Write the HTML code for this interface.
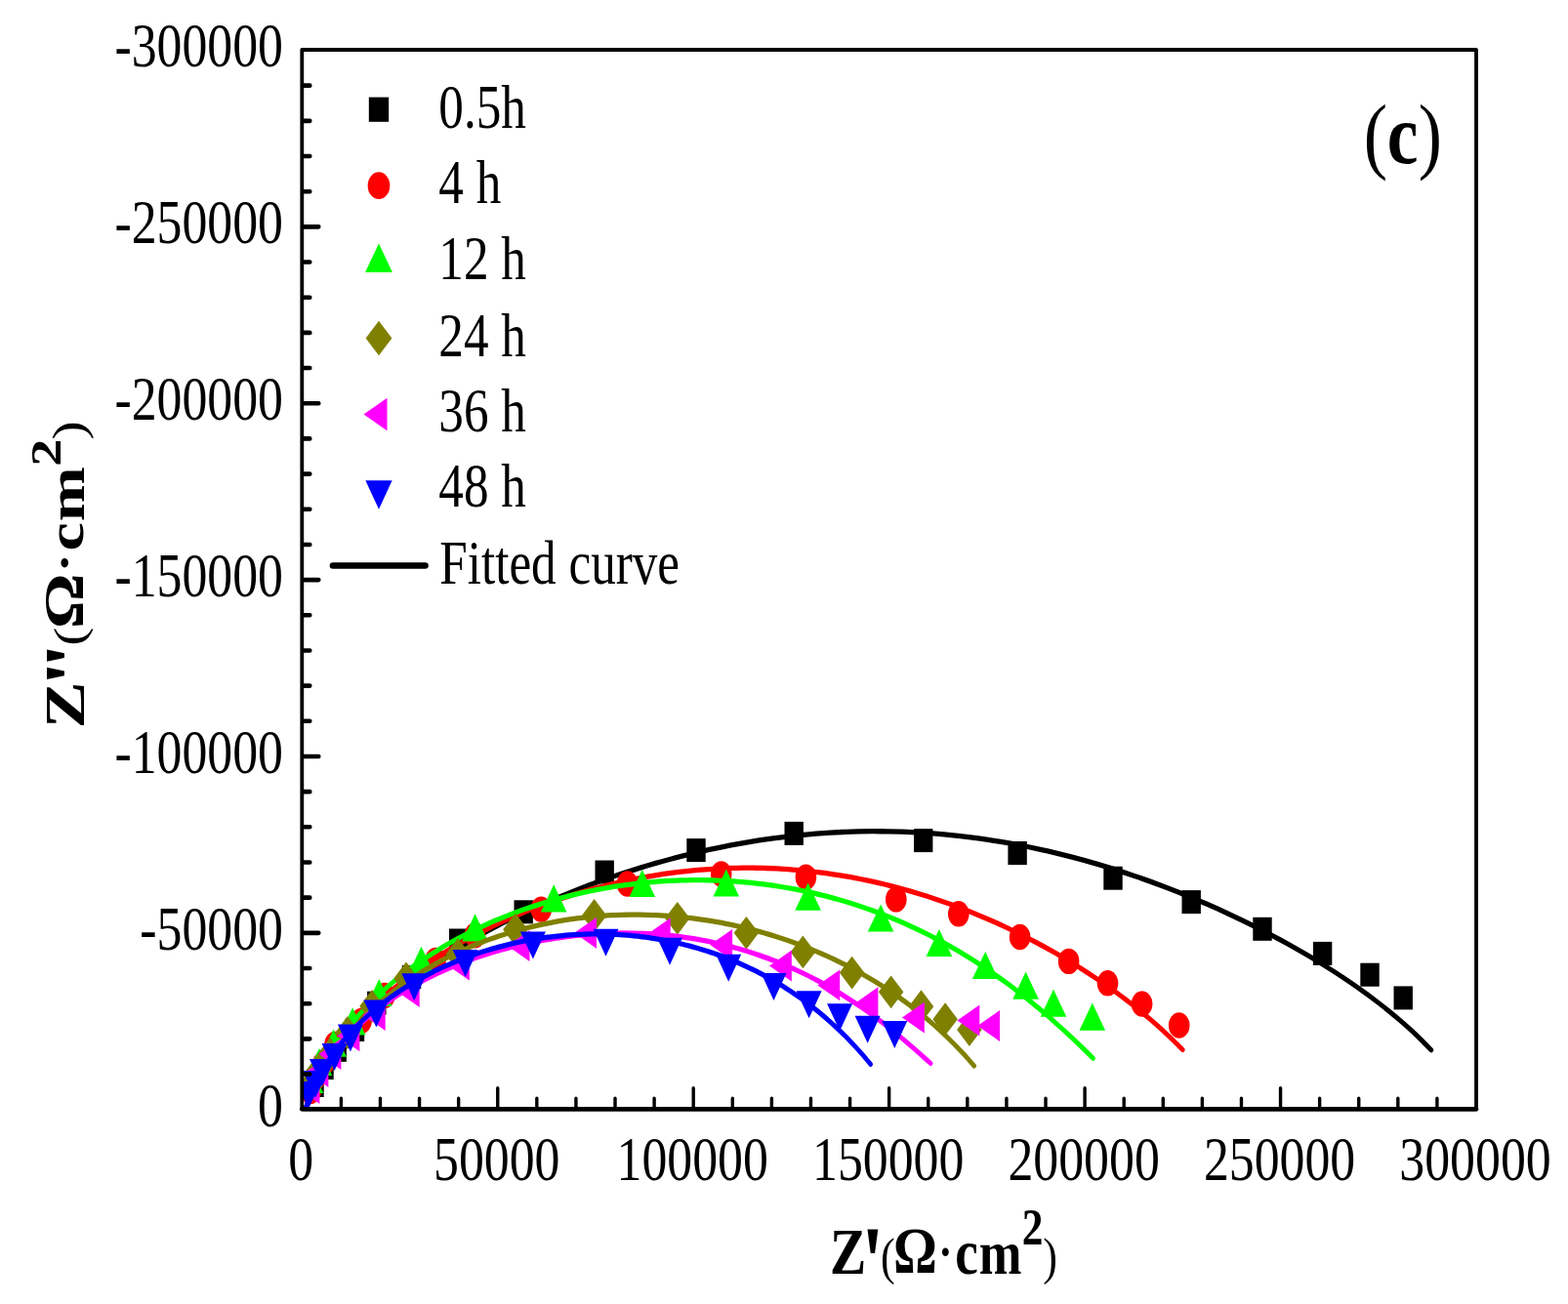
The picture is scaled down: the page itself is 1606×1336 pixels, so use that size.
<!DOCTYPE html><html><head><meta charset="utf-8"><title>Nyquist plot</title><style>html,body{margin:0;padding:0;background:#fff;}svg{display:block}</style></head><body>
<svg width="1606" height="1336" viewBox="0 0 1606 1336">
<rect width="1606" height="1336" fill="#fff"/>
<defs><clipPath id="pc"><rect x="309.3" y="51" width="1202.7" height="1085.2"/></clipPath></defs>
<g clip-path="url(#pc)" stroke-linecap="round" stroke-linejoin="round">
<rect x="312.3" y="1100" width="19.4" height="24" fill="#000000"/>
<rect x="322.3" y="1082" width="19.4" height="24" fill="#000000"/>
<rect x="335.5" y="1063.8" width="19.4" height="24" fill="#000000"/>
<rect x="353.8" y="1043" width="19.4" height="24" fill="#000000"/>
<rect x="376.1" y="1015.7" width="19.4" height="24" fill="#000000"/>
<rect x="411.8" y="989" width="19.4" height="24" fill="#000000"/>
<rect x="460" y="951.5" width="19.4" height="24" fill="#000000"/>
<rect x="526.5" y="922.3" width="19.4" height="24" fill="#000000"/>
<rect x="609.5" y="881.5" width="19.4" height="24" fill="#000000"/>
<rect x="703.3" y="859.1" width="19.4" height="24" fill="#000000"/>
<rect x="803.5" y="841.9" width="19.4" height="24" fill="#000000"/>
<rect x="936" y="849.1" width="19.4" height="24" fill="#000000"/>
<rect x="1032.4" y="862" width="19.4" height="24" fill="#000000"/>
<rect x="1130.3" y="887.7" width="19.4" height="24" fill="#000000"/>
<rect x="1210.5" y="912.1" width="19.4" height="24" fill="#000000"/>
<rect x="1283.3" y="939.8" width="19.4" height="24" fill="#000000"/>
<rect x="1344.9" y="964.9" width="19.4" height="24" fill="#000000"/>
<rect x="1393.3" y="986.7" width="19.4" height="24" fill="#000000"/>
<rect x="1427.5" y="1010.4" width="19.4" height="24" fill="#000000"/>
<path transform="scale(1,1.2)" d="M312.91,946.6 C313.88,944.65 316.65,938.71 318.74,934.88 C320.83,931.05 323.09,927.31 325.46,923.64 C327.83,919.96 330.35,916.37 332.97,912.85 C335.6,909.33 338.35,905.88 341.2,902.51 C344.05,899.13 347.02,895.83 350.07,892.59 C353.12,889.35 356.28,886.18 359.51,883.08 C362.75,879.97 366.07,876.93 369.47,873.95 C372.86,870.97 376.34,868.05 379.88,865.19 C383.42,862.34 387.03,859.54 390.7,856.79 C394.36,854.05 398.1,851.36 401.88,848.72 C405.66,846.09 409.5,843.51 413.38,840.97 C417.26,838.44 421.19,835.96 425.16,833.53 C429.13,831.09 433.15,828.71 437.2,826.36 C441.25,824.02 445.34,821.73 449.46,819.48 C453.58,817.22 457.74,815.02 461.93,812.85 C466.11,810.68 470.33,808.55 474.57,806.47 C478.81,804.38 483.08,802.33 487.37,800.32 C491.66,798.31 495.98,796.34 500.31,794.4 C504.65,792.47 509.01,790.57 513.39,788.7 C517.77,786.84 522.17,785.01 526.58,783.22 C531,781.42 535.44,779.66 539.89,777.93 C544.34,776.2 548.81,774.51 553.29,772.84 C557.77,771.18 562.27,769.55 566.78,767.95 C571.3,766.35 575.83,764.79 580.37,763.25 C584.91,761.72 589.46,760.21 594.03,758.74 C598.6,757.27 603.18,755.82 607.77,754.41 C612.36,753 616.97,751.62 621.59,750.27 C626.2,748.93 630.83,747.61 635.47,746.32 C640.11,745.04 644.76,743.78 649.42,742.56 C654.08,741.33 658.76,740.14 663.44,738.98 C668.12,737.82 672.82,736.69 677.52,735.6 C682.22,734.5 686.94,733.44 691.66,732.4 C696.38,731.37 701.12,730.37 705.86,729.41 C710.6,728.44 715.35,727.51 720.11,726.61 C724.87,725.72 729.64,724.85 734.41,724.02 C739.19,723.19 743.98,722.39 748.77,721.63 C753.56,720.87 758.36,720.14 763.17,719.45 C767.97,718.76 772.79,718.11 777.61,717.49 C782.42,716.87 787.25,716.28 792.08,715.74 C796.91,715.19 801.75,714.68 806.59,714.21 C811.44,713.73 816.28,713.3 821.14,712.9 C825.99,712.5 830.84,712.14 835.7,711.82 C840.56,711.49 845.42,711.21 850.29,710.96 C855.15,710.71 860.02,710.5 864.89,710.33 C869.76,710.16 874.63,710.03 879.5,709.94 C884.37,709.84 889.24,709.79 894.11,709.77 C898.98,709.76 903.86,709.78 908.73,709.84 C913.6,709.9 918.47,710 923.33,710.14 C928.2,710.28 933.06,710.46 937.93,710.68 C942.79,710.89 947.65,711.15 952.5,711.44 C957.36,711.74 962.21,712.07 967.05,712.44 C971.9,712.81 976.74,713.22 981.58,713.67 C986.41,714.11 991.24,714.6 996.07,715.12 C1000.89,715.64 1005.71,716.2 1010.52,716.79 C1015.33,717.39 1020.13,718.02 1024.93,718.69 C1029.72,719.36 1034.51,720.07 1039.29,720.81 C1044.07,721.55 1048.84,722.33 1053.6,723.14 C1058.36,723.95 1063.11,724.8 1067.85,725.68 C1072.59,726.56 1077.32,727.47 1082.05,728.42 C1086.77,729.37 1091.48,730.35 1096.18,731.37 C1100.88,732.38 1105.57,733.43 1110.25,734.51 C1114.93,735.59 1119.59,736.71 1124.25,737.85 C1128.91,738.99 1133.55,740.17 1138.18,741.38 C1142.82,742.58 1147.44,743.82 1152.05,745.08 C1156.66,746.35 1161.25,747.65 1165.84,748.97 C1170.42,750.3 1175,751.66 1179.56,753.04 C1184.12,754.42 1188.67,755.84 1193.2,757.28 C1197.74,758.72 1202.26,760.19 1206.77,761.69 C1211.28,763.18 1215.78,764.71 1220.27,766.26 C1224.75,767.81 1229.22,769.39 1233.68,771 C1238.14,772.61 1242.59,774.25 1247.02,775.91 C1251.45,777.57 1255.87,779.26 1260.28,780.98 C1264.68,782.69 1269.07,784.44 1273.45,786.21 C1277.83,787.98 1282.19,789.78 1286.54,791.61 C1290.88,793.44 1295.22,795.29 1299.53,797.18 C1303.85,799.06 1308.15,800.98 1312.44,802.92 C1316.72,804.86 1320.99,806.83 1325.24,808.83 C1329.49,810.83 1333.72,812.87 1337.93,814.93 C1342.14,816.99 1346.33,819.08 1350.5,821.21 C1354.67,823.34 1358.82,825.5 1362.95,827.69 C1367.07,829.88 1371.18,832.11 1375.25,834.37 C1379.33,836.63 1383.38,838.93 1387.39,841.26 C1391.41,843.6 1395.41,845.97 1399.36,848.38 C1403.32,850.8 1407.24,853.24 1411.13,855.74 C1415.01,858.23 1418.87,860.76 1422.67,863.34 C1426.48,865.92 1430.25,868.54 1433.96,871.2 C1437.68,873.87 1441.35,876.58 1444.97,879.35 C1448.58,882.11 1452.15,884.92 1455.65,887.78 C1459.15,890.64 1464.25,895.06 1465.97,896.52" fill="none" stroke="#000000" stroke-width="4.4"/>
<ellipse cx="318" cy="1118" rx="10.8" ry="13.2" fill="#ff0000"/>
<ellipse cx="323" cy="1104" rx="10.8" ry="13.2" fill="#ff0000"/>
<ellipse cx="331" cy="1090" rx="10.8" ry="13.2" fill="#ff0000"/>
<ellipse cx="343" cy="1070" rx="10.8" ry="13.2" fill="#ff0000"/>
<ellipse cx="370" cy="1046" rx="10.8" ry="13.2" fill="#ff0000"/>
<ellipse cx="394" cy="1020" rx="10.8" ry="13.2" fill="#ff0000"/>
<ellipse cx="446" cy="984" rx="10.8" ry="13.2" fill="#ff0000"/>
<ellipse cx="486.6" cy="958.2" rx="10.8" ry="13.2" fill="#ff0000"/>
<ellipse cx="554.3" cy="931.6" rx="10.8" ry="13.2" fill="#ff0000"/>
<ellipse cx="642.5" cy="905.5" rx="10.8" ry="13.2" fill="#ff0000"/>
<ellipse cx="738.7" cy="895.5" rx="10.8" ry="13.2" fill="#ff0000"/>
<ellipse cx="825.4" cy="898.7" rx="10.8" ry="13.2" fill="#ff0000"/>
<ellipse cx="917.8" cy="921.4" rx="10.8" ry="13.2" fill="#ff0000"/>
<ellipse cx="981.8" cy="936.3" rx="10.8" ry="13.2" fill="#ff0000"/>
<ellipse cx="1044.6" cy="960" rx="10.8" ry="13.2" fill="#ff0000"/>
<ellipse cx="1094.6" cy="984.9" rx="10.8" ry="13.2" fill="#ff0000"/>
<ellipse cx="1134.5" cy="1007.3" rx="10.8" ry="13.2" fill="#ff0000"/>
<ellipse cx="1169.6" cy="1028.5" rx="10.8" ry="13.2" fill="#ff0000"/>
<ellipse cx="1207.7" cy="1050.5" rx="10.8" ry="13.2" fill="#ff0000"/>
<path transform="scale(1,1.2)" d="M312.97,946.65 C313.63,945.08 315.53,940.34 316.98,937.26 C318.42,934.17 319.98,931.13 321.63,928.13 C323.27,925.13 325.03,922.18 326.86,919.27 C328.69,916.36 330.62,913.5 332.63,910.68 C334.64,907.86 336.73,905.08 338.89,902.34 C341.06,899.61 343.3,896.92 345.61,894.27 C347.92,891.62 350.3,889.02 352.74,886.45 C355.18,883.89 357.68,881.36 360.24,878.88 C362.8,876.4 365.42,873.96 368.09,871.56 C370.76,869.16 373.49,866.8 376.26,864.48 C379.03,862.15 381.85,859.87 384.72,857.63 C387.58,855.39 390.49,853.18 393.43,851.01 C396.38,848.85 399.37,846.72 402.39,844.62 C405.42,842.53 408.48,840.47 411.57,838.45 C414.67,836.43 417.8,834.44 420.96,832.49 C424.11,830.54 427.31,828.63 430.52,826.75 C433.74,824.86 436.99,823.02 440.26,821.2 C443.53,819.39 446.83,817.61 450.15,815.86 C453.47,814.11 456.82,812.4 460.19,810.72 C463.56,809.03 466.95,807.38 470.36,805.76 C473.77,804.14 477.2,802.56 480.65,801 C484.1,799.45 487.57,797.92 491.06,796.43 C494.55,794.93 498.05,793.47 501.57,792.04 C505.1,790.6 508.63,789.2 512.19,787.83 C515.74,786.46 519.31,785.11 522.89,783.8 C526.48,782.49 530.07,781.21 533.69,779.96 C537.3,778.7 540.92,777.48 544.56,776.29 C548.2,775.09 551.85,773.93 555.51,772.8 C559.17,771.66 562.85,770.56 566.53,769.48 C570.22,768.41 573.91,767.37 577.62,766.35 C581.33,765.33 585.04,764.35 588.77,763.39 C592.5,762.44 596.24,761.51 599.98,760.62 C603.73,759.72 607.48,758.85 611.25,758.02 C615.01,757.18 618.79,756.37 622.57,755.6 C626.35,754.82 630.14,754.08 633.93,753.36 C637.73,752.65 641.53,751.96 645.34,751.31 C649.15,750.65 652.97,750.03 656.79,749.43 C660.61,748.84 664.44,748.28 668.27,747.75 C672.11,747.21 675.95,746.71 679.79,746.24 C683.63,745.77 687.48,745.34 691.34,744.93 C695.19,744.52 699.05,744.15 702.9,743.8 C706.76,743.46 710.63,743.15 714.49,742.86 C718.36,742.58 722.23,742.33 726.1,742.12 C729.97,741.9 733.84,741.71 737.71,741.56 C741.59,741.4 745.46,741.28 749.34,741.19 C753.21,741.1 757.09,741.04 760.96,741.02 C764.84,740.99 768.71,740.99 772.58,741.03 C776.46,741.07 780.33,741.14 784.2,741.24 C788.07,741.34 791.94,741.47 795.81,741.64 C799.67,741.8 803.54,742 807.4,742.23 C811.26,742.46 815.11,742.72 818.97,743.01 C822.82,743.3 826.67,743.62 830.51,743.98 C834.35,744.33 838.19,744.72 842.03,745.13 C845.86,745.55 849.69,746 853.51,746.48 C857.33,746.95 861.15,747.46 864.96,748 C868.77,748.54 872.57,749.12 876.37,749.72 C880.16,750.32 883.95,750.95 887.73,751.61 C891.51,752.27 895.28,752.96 899.04,753.68 C902.81,754.4 906.56,755.15 910.31,755.93 C914.05,756.71 917.79,757.51 921.51,758.35 C925.24,759.19 928.96,760.05 932.66,760.94 C936.37,761.84 940.07,762.76 943.75,763.71 C947.44,764.66 951.12,765.63 954.78,766.64 C958.45,767.64 962.1,768.67 965.74,769.73 C969.39,770.79 973.02,771.87 976.64,772.98 C980.26,774.1 983.87,775.23 987.46,776.4 C991.06,777.56 994.64,778.75 998.22,779.97 C1001.79,781.18 1005.35,782.42 1008.9,783.69 C1012.44,784.96 1015.98,786.25 1019.5,787.57 C1023.02,788.88 1026.53,790.23 1030.03,791.59 C1033.53,792.96 1037.01,794.35 1040.48,795.76 C1043.95,797.18 1047.41,798.62 1050.85,800.08 C1054.29,801.55 1057.72,803.04 1061.14,804.55 C1064.55,806.06 1067.95,807.6 1071.34,809.16 C1074.73,810.72 1078.1,812.31 1081.46,813.91 C1084.81,815.52 1088.16,817.16 1091.48,818.81 C1094.81,820.47 1098.12,822.15 1101.42,823.86 C1104.72,825.56 1108,827.29 1111.26,829.04 C1114.52,830.8 1117.77,832.57 1121,834.38 C1124.23,836.18 1127.44,838.01 1130.64,839.86 C1133.83,841.71 1137.01,843.59 1140.16,845.49 C1143.32,847.39 1146.46,849.32 1149.57,851.27 C1152.69,853.22 1155.78,855.2 1158.86,857.21 C1161.93,859.21 1164.98,861.24 1168.01,863.3 C1171.04,865.36 1174.04,867.44 1177.02,869.56 C1180,871.67 1182.95,873.81 1185.87,875.98 C1188.8,878.14 1191.7,880.34 1194.56,882.56 C1197.43,884.79 1200.27,887.04 1203.07,889.32 C1205.87,891.61 1210,895.11 1211.38,896.26" fill="none" stroke="#ff0000" stroke-width="4.4"/>
<polygon points="318,1091.9 331.3,1120.1 304.7,1120.1" fill="#00ff00"/>
<polygon points="327,1073.9 340.3,1102.1 313.7,1102.1" fill="#00ff00"/>
<polygon points="341.6,1054.6 354.9,1082.8 328.3,1082.8" fill="#00ff00"/>
<polygon points="361.1,1032.2 374.4,1060.4 347.8,1060.4" fill="#00ff00"/>
<polygon points="388.3,1002.9 401.6,1031.1 375,1031.1" fill="#00ff00"/>
<polygon points="431.5,969.8 444.8,998 418.2,998" fill="#00ff00"/>
<polygon points="486.6,936.2 499.9,964.4 473.3,964.4" fill="#00ff00"/>
<polygon points="567.2,906.3 580.5,934.5 553.9,934.5" fill="#00ff00"/>
<polygon points="657.8,890.7 671.1,918.9 644.5,918.9" fill="#00ff00"/>
<polygon points="743.8,890.4 757.1,918.6 730.5,918.6" fill="#00ff00"/>
<polygon points="827.6,904.5 840.9,932.7 814.3,932.7" fill="#00ff00"/>
<polygon points="902.1,926.4 915.4,954.6 888.8,954.6" fill="#00ff00"/>
<polygon points="961.9,951.9 975.2,980.1 948.6,980.1" fill="#00ff00"/>
<polygon points="1009.2,974.9 1022.5,1003.1 995.9,1003.1" fill="#00ff00"/>
<polygon points="1050.6,995.6 1063.9,1023.8 1037.3,1023.8" fill="#00ff00"/>
<polygon points="1079,1013.6 1092.3,1041.8 1065.7,1041.8" fill="#00ff00"/>
<polygon points="1118.8,1027.6 1132.1,1055.8 1105.5,1055.8" fill="#00ff00"/>
<path transform="scale(1,1.2)" d="M312.94,946.64 C313.49,945.2 315.03,940.86 316.2,938.02 C317.37,935.17 318.63,932.36 319.97,929.57 C321.3,926.78 322.72,924.02 324.22,921.29 C325.71,918.56 327.29,915.86 328.93,913.19 C330.57,910.53 332.29,907.89 334.07,905.29 C335.86,902.69 337.71,900.11 339.62,897.58 C341.54,895.04 343.52,892.53 345.56,890.06 C347.59,887.59 349.7,885.15 351.85,882.75 C354,880.35 356.22,877.98 358.48,875.65 C360.74,873.31 363.06,871.01 365.43,868.75 C367.79,866.48 370.21,864.25 372.67,862.06 C375.13,859.86 377.64,857.71 380.19,855.58 C382.74,853.46 385.33,851.37 387.96,849.31 C390.6,847.26 393.27,845.24 395.98,843.25 C398.69,841.27 401.44,839.32 404.22,837.41 C407,835.49 409.82,833.61 412.67,831.77 C415.52,829.92 418.4,828.11 421.31,826.34 C424.22,824.56 427.17,822.82 430.13,821.11 C433.1,819.41 436.1,817.73 439.12,816.09 C442.14,814.45 445.19,812.85 448.27,811.28 C451.34,809.71 454.43,808.17 457.55,806.66 C460.67,805.16 463.81,803.69 466.97,802.25 C470.13,800.81 473.31,799.4 476.5,798.03 C479.7,796.65 482.92,795.31 486.15,794 C489.39,792.69 492.64,791.42 495.91,790.17 C499.17,788.93 502.46,787.71 505.76,786.53 C509.05,785.35 512.37,784.2 515.69,783.08 C519.02,781.96 522.35,780.87 525.71,779.81 C529.06,778.75 532.42,777.73 535.79,776.73 C539.17,775.73 542.55,774.77 545.95,773.83 C549.35,772.89 552.75,771.99 556.17,771.11 C559.58,770.24 563.01,769.39 566.44,768.57 C569.87,767.76 573.32,766.97 576.76,766.21 C580.21,765.46 583.67,764.73 587.13,764.03 C590.6,763.33 594.07,762.66 597.55,762.02 C601.02,761.39 604.51,760.77 607.99,760.19 C611.48,759.61 614.98,759.06 618.47,758.54 C621.97,758.01 625.48,757.52 628.98,757.05 C632.49,756.59 636,756.15 639.52,755.74 C643.03,755.33 646.55,754.95 650.08,754.6 C653.6,754.25 657.12,753.93 660.65,753.64 C664.18,753.35 667.71,753.08 671.24,752.85 C674.77,752.61 678.3,752.4 681.84,752.23 C685.37,752.05 688.91,751.9 692.44,751.78 C695.98,751.66 699.51,751.57 703.05,751.5 C706.59,751.44 710.12,751.41 713.66,751.4 C717.2,751.4 720.73,751.42 724.27,751.47 C727.8,751.53 731.33,751.61 734.86,751.72 C738.39,751.83 741.92,751.97 745.45,752.14 C748.98,752.31 752.5,752.51 756.02,752.73 C759.54,752.96 763.06,753.22 766.58,753.5 C770.09,753.79 773.6,754.1 777.11,754.45 C780.62,754.79 784.12,755.17 787.62,755.57 C791.11,755.97 794.6,756.4 798.09,756.87 C801.58,757.33 805.06,757.82 808.53,758.34 C812.01,758.86 815.47,759.41 818.93,759.99 C822.39,760.56 825.85,761.17 829.29,761.81 C832.74,762.45 836.18,763.11 839.61,763.81 C843.04,764.51 846.46,765.23 849.87,765.99 C853.28,766.74 856.69,767.52 860.08,768.34 C863.47,769.15 866.85,769.99 870.23,770.86 C873.6,771.73 876.96,772.63 880.31,773.56 C883.66,774.49 887,775.45 890.33,776.43 C893.66,777.42 896.97,778.43 900.28,779.47 C903.58,780.52 906.87,781.59 910.15,782.68 C913.42,783.78 916.69,784.91 919.94,786.06 C923.19,787.22 926.43,788.4 929.65,789.61 C932.87,790.82 936.08,792.06 939.27,793.32 C942.47,794.58 945.64,795.88 948.81,797.19 C951.97,798.51 955.12,799.85 958.25,801.22 C961.38,802.59 964.5,803.99 967.6,805.41 C970.7,806.83 973.79,808.28 976.85,809.75 C979.92,811.22 982.97,812.72 986.01,814.24 C989.04,815.77 992.06,817.31 995.06,818.88 C998.07,820.45 1001.05,822.05 1004.02,823.66 C1006.99,825.28 1009.94,826.92 1012.87,828.59 C1015.81,830.25 1018.72,831.94 1021.62,833.65 C1024.52,835.35 1027.41,837.08 1030.27,838.84 C1033.14,840.59 1035.99,842.36 1038.82,844.15 C1041.66,845.95 1044.48,847.76 1047.28,849.6 C1050.08,851.43 1052.87,853.29 1055.64,855.16 C1058.41,857.03 1061.16,858.93 1063.9,860.84 C1066.64,862.75 1069.37,864.68 1072.08,866.63 C1074.79,868.58 1077.48,870.55 1080.17,872.53 C1082.85,874.51 1085.52,876.52 1088.18,878.53 C1090.84,880.55 1093.48,882.59 1096.12,884.64 C1098.75,886.69 1101.38,888.76 1103.99,890.84 C1106.6,892.92 1109.21,895.02 1111.8,897.14 C1114.4,899.25 1118.27,902.46 1119.57,903.52" fill="none" stroke="#00ff00" stroke-width="4.4"/>
<polygon points="318,1095.1 330.75,1112 318,1128.9 305.25,1112" fill="#808000"/>
<polygon points="326,1080.1 338.75,1097 326,1113.9 313.25,1097" fill="#808000"/>
<polygon points="338,1063.1 350.75,1080 338,1096.9 325.25,1080" fill="#808000"/>
<polygon points="356,1041.1 368.75,1058 356,1074.9 343.25,1058" fill="#808000"/>
<polygon points="381,1014.1 393.75,1031 381,1047.9 368.25,1031" fill="#808000"/>
<polygon points="416,985.6 428.75,1002.5 416,1019.4 403.25,1002.5" fill="#808000"/>
<polygon points="469,961.1 481.75,978 469,994.9 456.25,978" fill="#808000"/>
<polygon points="527.9,935.4 540.65,952.3 527.9,969.2 515.15,952.3" fill="#808000"/>
<polygon points="608.6,921.1 621.35,938 608.6,954.9 595.85,938" fill="#808000"/>
<polygon points="693.8,923.9 706.55,940.8 693.8,957.7 681.05,940.8" fill="#808000"/>
<polygon points="764.4,938.9 777.15,955.8 764.4,972.7 751.65,955.8" fill="#808000"/>
<polygon points="822.4,958.5 835.15,975.4 822.4,992.3 809.65,975.4" fill="#808000"/>
<polygon points="872.6,979.7 885.35,996.6 872.6,1013.5 859.85,996.6" fill="#808000"/>
<polygon points="912.6,999.4 925.35,1016.3 912.6,1033.2 899.85,1016.3" fill="#808000"/>
<polygon points="943.5,1014.3 956.25,1031.2 943.5,1048.1 930.75,1031.2" fill="#808000"/>
<polygon points="968.1,1027.3 980.85,1044.2 968.1,1061.1 955.35,1044.2" fill="#808000"/>
<polygon points="992.9,1038.1 1005.65,1055 992.9,1071.9 980.15,1055" fill="#808000"/>
<path transform="scale(1,1.2)" d="M312.95,946.64 C313.48,945.45 315.01,941.88 316.12,939.52 C317.24,937.17 318.42,934.83 319.65,932.52 C320.88,930.2 322.17,927.9 323.51,925.63 C324.85,923.35 326.24,921.1 327.69,918.87 C329.14,916.64 330.64,914.43 332.18,912.24 C333.73,910.06 335.33,907.89 336.97,905.75 C338.62,903.62 340.31,901.5 342.05,899.41 C343.78,897.32 345.57,895.26 347.39,893.22 C349.22,891.18 351.09,889.16 353,887.18 C354.9,885.19 356.86,883.23 358.85,881.29 C360.83,879.36 362.86,877.45 364.93,875.57 C367,873.69 369.1,871.83 371.24,870.01 C373.37,868.18 375.55,866.38 377.76,864.61 C379.96,862.84 382.2,861.1 384.47,859.39 C386.74,857.67 389.05,855.99 391.38,854.33 C393.71,852.68 396.08,851.05 398.47,849.45 C400.86,847.85 403.28,846.28 405.72,844.73 C408.16,843.19 410.64,841.68 413.13,840.2 C415.63,838.71 418.15,837.26 420.69,835.83 C423.24,834.4 425.8,833.01 428.39,831.64 C430.98,830.27 433.59,828.93 436.22,827.62 C438.85,826.31 441.5,825.03 444.17,823.78 C446.84,822.52 449.53,821.3 452.24,820.11 C454.94,818.91 457.67,817.75 460.4,816.61 C463.14,815.47 465.9,814.36 468.67,813.28 C471.44,812.2 474.23,811.15 477.03,810.13 C479.83,809.11 482.64,808.11 485.46,807.14 C488.29,806.18 491.13,805.24 493.98,804.33 C496.83,803.42 499.69,802.54 502.56,801.68 C505.43,800.83 508.32,800 511.21,799.2 C514.1,798.4 517,797.63 519.91,796.88 C522.82,796.14 525.74,795.42 528.67,794.73 C531.59,794.04 534.53,793.38 537.47,792.74 C540.41,792.11 543.36,791.5 546.31,790.91 C549.26,790.33 552.22,789.77 555.19,789.24 C558.15,788.71 561.12,788.21 564.1,787.73 C567.07,787.25 570.05,786.8 573.03,786.37 C576.02,785.95 579,785.55 581.99,785.17 C584.98,784.8 587.98,784.45 590.97,784.12 C593.97,783.8 596.96,783.5 599.96,783.23 C602.96,782.95 605.97,782.71 608.97,782.48 C611.97,782.26 614.98,782.06 617.98,781.89 C620.99,781.71 623.99,781.56 627,781.44 C630,781.31 633.01,781.21 636.01,781.13 C639.02,781.06 642.03,781.01 645.03,780.98 C648.04,780.95 651.04,780.95 654.04,780.97 C657.05,780.99 660.05,781.03 663.05,781.1 C666.05,781.16 669.04,781.25 672.04,781.37 C675.04,781.48 678.03,781.62 681.02,781.78 C684.01,781.95 687,782.13 689.99,782.34 C692.97,782.55 695.95,782.78 698.93,783.03 C701.91,783.29 704.89,783.57 707.86,783.87 C710.83,784.17 713.8,784.49 716.76,784.84 C719.73,785.19 722.69,785.56 725.64,785.95 C728.6,786.35 731.55,786.76 734.49,787.2 C737.44,787.64 740.38,788.1 743.31,788.59 C746.25,789.07 749.18,789.58 752.1,790.11 C755.02,790.64 757.94,791.19 760.85,791.77 C763.76,792.34 766.67,792.94 769.56,793.56 C772.46,794.18 775.35,794.83 778.24,795.49 C781.12,796.16 784,796.85 786.87,797.56 C789.73,798.27 792.6,799.01 795.45,799.76 C798.3,800.52 801.15,801.3 803.98,802.1 C806.82,802.91 809.65,803.73 812.47,804.58 C815.29,805.43 818.1,806.3 820.9,807.19 C823.7,808.08 826.49,809 829.27,809.94 C832.05,810.87 834.82,811.83 837.58,812.82 C840.34,813.8 843.09,814.81 845.83,815.83 C848.57,816.86 851.29,817.91 854.01,818.99 C856.72,820.06 859.43,821.16 862.12,822.28 C864.81,823.39 867.49,824.54 870.16,825.7 C872.82,826.86 875.48,828.05 878.12,829.26 C880.76,830.47 883.38,831.7 886,832.95 C888.61,834.21 891.21,835.48 893.79,836.78 C896.38,838.08 898.94,839.4 901.5,840.75 C904.05,842.09 906.59,843.46 909.11,844.84 C911.63,846.23 914.14,847.64 916.63,849.08 C919.12,850.51 921.59,851.96 924.05,853.44 C926.5,854.92 928.94,856.42 931.36,857.94 C933.78,859.46 936.18,861 938.56,862.57 C940.94,864.13 943.3,865.72 945.65,867.33 C947.99,868.94 950.32,870.57 952.62,872.22 C954.92,873.87 957.21,875.54 959.47,877.24 C961.73,878.93 963.97,880.65 966.19,882.39 C968.41,884.12 970.6,885.88 972.78,887.66 C974.95,889.44 977.1,891.24 979.23,893.06 C981.35,894.88 983.46,896.72 985.54,898.58 C987.62,900.44 989.67,902.33 991.7,904.23 C993.73,906.13 996.71,909.03 997.71,909.99" fill="none" stroke="#808000" stroke-width="4.4"/>
<polygon points="304.6,1115 327.4,1099.1 327.4,1130.9" fill="#ff00ff"/>
<polygon points="313.6,1098 336.4,1082.1 336.4,1113.9" fill="#ff00ff"/>
<polygon points="326.6,1080 349.4,1064.1 349.4,1095.9" fill="#ff00ff"/>
<polygon points="345.6,1061.3 368.4,1045.4 368.4,1077.2" fill="#ff00ff"/>
<polygon points="371.9,1040 394.7,1024.1 394.7,1055.9" fill="#ff00ff"/>
<polygon points="406.9,1016 429.7,1000.1 429.7,1031.9" fill="#ff00ff"/>
<polygon points="458,988.7 480.8,972.8 480.8,1004.6" fill="#ff00ff"/>
<polygon points="519.7,969 542.5,953.1 542.5,984.9" fill="#ff00ff"/>
<polygon points="588.2,955.8 611,939.9 611,971.7" fill="#ff00ff"/>
<polygon points="663.9,956.5 686.7,940.6 686.7,972.4" fill="#ff00ff"/>
<polygon points="727.3,968 750.1,952.1 750.1,983.9" fill="#ff00ff"/>
<polygon points="788,989.5 810.8,973.6 810.8,1005.4" fill="#ff00ff"/>
<polygon points="837.4,1009.4 860.2,993.5 860.2,1025.3" fill="#ff00ff"/>
<polygon points="876.6,1027.2 899.4,1011.3 899.4,1043.1" fill="#ff00ff"/>
<polygon points="924,1042.6 946.8,1026.7 946.8,1058.5" fill="#ff00ff"/>
<polygon points="980.5,1045.5 1003.3,1029.6 1003.3,1061.4" fill="#ff00ff"/>
<polygon points="1001.2,1051 1024,1035.1 1024,1066.9" fill="#ff00ff"/>
<path transform="scale(1,1.2)" d="M312.99,946.66 C313.41,945.52 314.6,942.07 315.52,939.81 C316.44,937.55 317.44,935.32 318.5,933.11 C319.56,930.91 320.69,928.73 321.89,926.59 C323.08,924.44 324.35,922.32 325.67,920.23 C326.99,918.14 328.38,916.08 329.82,914.04 C331.26,912.01 332.75,910.01 334.3,908.03 C335.85,906.06 337.46,904.12 339.11,902.2 C340.76,900.29 342.46,898.4 344.21,896.55 C345.95,894.7 347.75,892.87 349.58,891.08 C351.41,889.28 353.29,887.52 355.21,885.78 C357.12,884.05 359.08,882.34 361.07,880.67 C363.06,878.99 365.09,877.35 367.15,875.73 C369.22,874.12 371.31,872.53 373.44,870.97 C375.56,869.41 377.72,867.89 379.91,866.39 C382.09,864.88 384.31,863.41 386.55,861.97 C388.79,860.53 391.05,859.11 393.34,857.73 C395.63,856.34 397.95,854.98 400.28,853.65 C402.62,852.32 404.98,851.01 407.36,849.73 C409.73,848.46 412.13,847.21 414.55,845.98 C416.97,844.76 419.4,843.56 421.85,842.39 C424.3,841.22 426.77,840.07 429.26,838.95 C431.74,837.83 434.24,836.73 436.75,835.66 C439.27,834.59 441.79,833.55 444.33,832.52 C446.87,831.5 449.42,830.51 451.99,829.53 C454.55,828.56 457.13,827.61 459.71,826.69 C462.3,825.76 464.9,824.86 467.5,823.98 C470.11,823.1 472.72,822.24 475.35,821.41 C477.97,820.58 480.6,819.77 483.24,818.98 C485.89,818.19 488.53,817.42 491.19,816.68 C493.85,815.93 496.51,815.21 499.18,814.51 C501.85,813.81 504.52,813.13 507.21,812.47 C509.89,811.81 512.58,811.17 515.27,810.56 C517.96,809.94 520.66,809.35 523.36,808.77 C526.07,808.2 528.78,807.64 531.49,807.11 C534.2,806.58 536.92,806.07 539.64,805.57 C542.36,805.08 545.09,804.61 547.82,804.16 C550.55,803.71 553.28,803.28 556.02,802.87 C558.75,802.46 561.49,802.07 564.23,801.7 C566.98,801.33 569.72,800.98 572.47,800.65 C575.22,800.32 577.97,800.01 580.72,799.72 C583.47,799.43 586.23,799.16 588.98,798.92 C591.74,798.67 594.5,798.44 597.26,798.23 C600.02,798.02 602.78,797.84 605.54,797.67 C608.31,797.5 611.07,797.36 613.84,797.23 C616.6,797.1 619.37,797 622.13,796.91 C624.9,796.83 627.67,796.76 630.43,796.72 C633.2,796.68 635.97,796.66 638.74,796.65 C641.5,796.65 644.27,796.67 647.04,796.71 C649.8,796.75 652.57,796.82 655.34,796.9 C658.1,796.98 660.87,797.09 663.63,797.21 C666.39,797.34 669.15,797.49 671.91,797.66 C674.67,797.82 677.43,798.02 680.18,798.23 C682.94,798.44 685.69,798.67 688.44,798.93 C691.19,799.19 693.94,799.47 696.68,799.77 C699.43,800.07 702.17,800.39 704.91,800.73 C707.64,801.08 710.38,801.45 713.11,801.84 C715.83,802.23 718.56,802.64 721.28,803.07 C724,803.51 726.71,803.96 729.42,804.44 C732.13,804.92 734.84,805.42 737.53,805.95 C740.23,806.47 742.92,807.02 745.61,807.59 C748.29,808.16 750.97,808.75 753.64,809.37 C756.31,809.98 758.98,810.62 761.63,811.28 C764.29,811.94 766.94,812.62 769.58,813.33 C772.22,814.03 774.85,814.76 777.48,815.51 C780.1,816.26 782.71,817.03 785.32,817.83 C787.92,818.62 790.52,819.44 793.11,820.28 C795.69,821.11 798.27,821.97 800.83,822.86 C803.4,823.74 805.95,824.64 808.5,825.57 C811.04,826.5 813.58,827.44 816.1,828.41 C818.62,829.38 821.13,830.37 823.63,831.38 C826.13,832.39 828.62,833.42 831.09,834.47 C833.57,835.52 836.03,836.6 838.48,837.69 C840.93,838.78 843.37,839.89 845.8,841.02 C848.22,842.16 850.64,843.31 853.04,844.48 C855.44,845.65 857.83,846.84 860.2,848.04 C862.58,849.25 864.94,850.48 867.29,851.72 C869.64,852.97 871.98,854.23 874.3,855.51 C876.62,856.79 878.94,858.08 881.23,859.4 C883.53,860.71 885.82,862.04 888.09,863.39 C890.37,864.73 892.63,866.09 894.88,867.47 C897.13,868.85 899.37,870.24 901.59,871.65 C903.82,873.06 906.03,874.48 908.24,875.92 C910.44,877.35 912.63,878.8 914.82,880.27 C917,881.73 919.17,883.21 921.33,884.7 C923.5,886.19 925.65,887.69 927.8,889.2 C929.94,890.72 932.08,892.24 934.21,893.78 C936.34,895.32 938.46,896.87 940.57,898.43 C942.69,899.99 944.8,901.56 946.91,903.14 C949.01,904.72 952.16,907.12 953.21,907.91" fill="none" stroke="#ff00ff" stroke-width="4.4"/>
<polygon points="303,1108 329,1108 316,1136" fill="#0000ff"/>
<polygon points="310,1097 336,1097 323,1125" fill="#0000ff"/>
<polygon points="317,1085 343,1085 330,1113" fill="#0000ff"/>
<polygon points="329.6,1068.9 355.6,1068.9 342.6,1096.9" fill="#0000ff"/>
<polygon points="345.9,1049.4 371.9,1049.4 358.9,1077.4" fill="#0000ff"/>
<polygon points="372.4,1024.4 398.4,1024.4 385.4,1052.4" fill="#0000ff"/>
<polygon points="411.3,997.3 437.3,997.3 424.3,1025.3" fill="#0000ff"/>
<polygon points="463.6,973 489.6,973 476.6,1001" fill="#0000ff"/>
<polygon points="532.9,954.5 558.9,954.5 545.9,982.5" fill="#0000ff"/>
<polygon points="607.5,951.8 633.5,951.8 620.5,979.8" fill="#0000ff"/>
<polygon points="673,960.7 699,960.7 686,988.7" fill="#0000ff"/>
<polygon points="733.2,977.8 759.2,977.8 746.2,1005.8" fill="#0000ff"/>
<polygon points="779.5,997 805.5,997 792.5,1025" fill="#0000ff"/>
<polygon points="815.6,1015.3 841.6,1015.3 828.6,1043.3" fill="#0000ff"/>
<polygon points="847.1,1028.2 873.1,1028.2 860.1,1056.2" fill="#0000ff"/>
<polygon points="875.6,1040.7 901.6,1040.7 888.6,1068.7" fill="#0000ff"/>
<polygon points="903.3,1046 929.3,1046 916.3,1074" fill="#0000ff"/>
<path transform="scale(1,1.2)" d="M312.99,946.66 C313.39,945.63 314.54,942.52 315.4,940.47 C316.26,938.42 317.17,936.39 318.14,934.38 C319.11,932.36 320.14,930.37 321.21,928.39 C322.28,926.41 323.41,924.46 324.58,922.52 C325.75,920.58 326.97,918.66 328.24,916.76 C329.5,914.86 330.81,912.99 332.17,911.13 C333.52,909.27 334.92,907.44 336.36,905.62 C337.8,903.81 339.28,902.02 340.8,900.25 C342.31,898.48 343.87,896.73 345.46,895.01 C347.06,893.28 348.69,891.58 350.35,889.9 C352.01,888.22 353.71,886.56 355.44,884.93 C357.17,883.3 358.94,881.69 360.73,880.1 C362.52,878.52 364.35,876.95 366.2,875.41 C368.05,873.87 369.94,872.36 371.84,870.87 C373.75,869.38 375.69,867.91 377.65,866.46 C379.6,865.02 381.59,863.6 383.6,862.2 C385.61,860.8 387.64,859.43 389.69,858.08 C391.75,856.73 393.82,855.4 395.92,854.1 C398.02,852.8 400.13,851.52 402.27,850.27 C404.41,849.01 406.56,847.78 408.74,846.57 C410.91,845.36 413.1,844.18 415.31,843.02 C417.52,841.86 419.75,840.72 421.99,839.6 C424.23,838.49 426.48,837.4 428.76,836.33 C431.03,835.26 433.31,834.22 435.61,833.19 C437.91,832.17 440.22,831.17 442.55,830.19 C444.87,829.22 447.21,828.26 449.56,827.33 C451.91,826.4 454.27,825.49 456.65,824.6 C459.02,823.72 461.4,822.85 463.8,822.01 C466.19,821.17 468.59,820.35 471,819.55 C473.42,818.76 475.84,817.98 478.27,817.23 C480.7,816.47 483.14,815.74 485.59,815.03 C488.03,814.32 490.49,813.63 492.95,812.97 C495.42,812.3 497.89,811.66 500.36,811.03 C502.84,810.41 505.32,809.81 507.81,809.23 C510.3,808.65 512.8,808.09 515.3,807.56 C517.8,807.02 520.31,806.5 522.82,806.01 C525.33,805.52 527.85,805.04 530.37,804.59 C532.9,804.14 535.42,803.71 537.95,803.3 C540.49,802.9 543.02,802.51 545.56,802.14 C548.1,801.78 550.64,801.43 553.19,801.11 C555.73,800.79 558.28,800.48 560.84,800.2 C563.39,799.92 565.94,799.66 568.5,799.42 C571.06,799.19 573.62,798.97 576.18,798.77 C578.74,798.58 581.31,798.4 583.87,798.25 C586.44,798.1 589,797.97 591.57,797.86 C594.14,797.75 596.71,797.66 599.28,797.59 C601.85,797.52 604.42,797.48 606.99,797.45 C609.56,797.43 612.13,797.43 614.7,797.45 C617.27,797.47 619.84,797.51 622.41,797.57 C624.98,797.63 627.55,797.72 630.11,797.82 C632.68,797.93 635.25,798.06 637.81,798.21 C640.37,798.36 642.94,798.53 645.5,798.72 C648.06,798.92 650.61,799.13 653.17,799.37 C655.72,799.61 658.28,799.87 660.83,800.15 C663.38,800.43 665.92,800.74 668.46,801.07 C671.01,801.39 673.54,801.74 676.08,802.11 C678.61,802.48 681.14,802.88 683.67,803.29 C686.19,803.71 688.71,804.15 691.22,804.61 C693.74,805.07 696.25,805.55 698.75,806.06 C701.25,806.56 703.75,807.09 706.24,807.64 C708.73,808.19 711.21,808.77 713.69,809.36 C716.16,809.96 718.63,810.57 721.09,811.21 C723.55,811.85 726,812.52 728.45,813.2 C730.89,813.89 733.33,814.6 735.75,815.33 C738.18,816.06 740.59,816.81 743,817.58 C745.41,818.36 747.81,819.15 750.19,819.97 C752.58,820.79 754.96,821.63 757.32,822.5 C759.69,823.36 762.04,824.25 764.38,825.15 C766.72,826.06 769.06,826.99 771.37,827.94 C773.69,828.89 776,829.86 778.29,830.86 C780.58,831.85 782.87,832.87 785.13,833.9 C787.4,834.94 789.65,836 791.89,837.08 C794.13,838.16 796.36,839.26 798.57,840.38 C800.78,841.5 802.97,842.64 805.15,843.81 C807.33,844.97 809.5,846.15 811.65,847.35 C813.8,848.56 815.93,849.78 818.05,851.02 C820.17,852.27 822.27,853.53 824.35,854.81 C826.44,856.09 828.51,857.39 830.56,858.72 C832.61,860.04 834.64,861.38 836.66,862.73 C838.68,864.09 840.68,865.47 842.66,866.86 C844.64,868.26 846.6,869.67 848.55,871.1 C850.49,872.53 852.42,873.98 854.33,875.45 C856.24,876.91 858.13,878.4 860,879.9 C861.88,881.4 863.73,882.91 865.57,884.44 C867.4,885.98 869.22,887.53 871.01,889.09 C872.81,890.66 874.59,892.24 876.35,893.83 C878.11,895.43 879.85,897.04 881.58,898.66 C883.3,900.29 885,901.93 886.69,903.58 C888.38,905.24 890.86,907.76 891.69,908.59" fill="none" stroke="#0000ff" stroke-width="4.4"/>
</g>
<path d="M309.3,51 H1512 V1136.2 H309.3 Z" fill="none" stroke="#000" stroke-width="3.8" stroke-linejoin="round"/>
<line x1="309.3" y1="1136.3" x2="1512" y2="1136.3" stroke="#000" stroke-width="4.7" stroke-linecap="round"/>
<path d="M349.39,1136.2 V1125.2 M389.48,1136.2 V1125.2 M429.57,1136.2 V1125.2 M469.66,1136.2 V1125.2 M509.75,1136.2 V1114.7 M549.84,1136.2 V1125.2 M589.93,1136.2 V1125.2 M630.02,1136.2 V1125.2 M670.11,1136.2 V1125.2 M710.2,1136.2 V1114.7 M750.29,1136.2 V1125.2 M790.38,1136.2 V1125.2 M830.47,1136.2 V1125.2 M870.56,1136.2 V1125.2 M910.65,1136.2 V1114.7 M950.74,1136.2 V1125.2 M990.83,1136.2 V1125.2 M1030.92,1136.2 V1125.2 M1071.01,1136.2 V1125.2 M1111.1,1136.2 V1114.7 M1151.19,1136.2 V1125.2 M1191.28,1136.2 V1125.2 M1231.37,1136.2 V1125.2 M1271.46,1136.2 V1125.2 M1311.55,1136.2 V1114.7 M1351.64,1136.2 V1125.2 M1391.73,1136.2 V1125.2 M1431.82,1136.2 V1125.2 M1471.91,1136.2 V1125.2" stroke="#000" stroke-width="3.4" stroke-linecap="round"/>
<path d="M310.8,1100.53 H317.3 M310.8,1064.35 H317.3 M310.8,1028.18 H317.3 M310.8,992.01 H317.3 M310.8,955.83 H326.3 M310.8,919.66 H317.3 M310.8,883.49 H317.3 M310.8,847.31 H317.3 M310.8,811.14 H317.3 M310.8,774.97 H326.3 M310.8,738.79 H317.3 M310.8,702.62 H317.3 M310.8,666.45 H317.3 M310.8,630.27 H317.3 M310.8,594.1 H326.3 M310.8,557.93 H317.3 M310.8,521.75 H317.3 M310.8,485.58 H317.3 M310.8,449.41 H317.3 M310.8,413.23 H326.3 M310.8,377.06 H317.3 M310.8,340.89 H317.3 M310.8,304.71 H317.3 M310.8,268.54 H317.3 M310.8,232.37 H326.3 M310.8,196.19 H317.3 M310.8,160.02 H317.3 M310.8,123.85 H317.3 M310.8,87.67 H317.3" stroke="#000" stroke-width="4.6" stroke-linecap="round"/>
<g font-family="Liberation Serif, 'Times New Roman', serif" fill="#000">
<text transform="translate(290,1153.5) scale(0.83,1)" text-anchor="end" font-size="62.4">0</text>
<text transform="translate(290,972.63) scale(0.83,1)" text-anchor="end" font-size="62.4">-50000</text>
<text transform="translate(290,791.77) scale(0.83,1)" text-anchor="end" font-size="62.4">-100000</text>
<text transform="translate(290,610.9) scale(0.83,1)" text-anchor="end" font-size="62.4">-150000</text>
<text transform="translate(290,430.03) scale(0.83,1)" text-anchor="end" font-size="62.4">-200000</text>
<text transform="translate(290,249.17) scale(0.83,1)" text-anchor="end" font-size="62.4">-250000</text>
<text transform="translate(290,68.3) scale(0.83,1)" text-anchor="end" font-size="62.4">-300000</text>
<text transform="translate(308.3,1209) scale(0.83,1)" text-anchor="middle" font-size="62.4">0</text>
<text transform="translate(508.75,1209) scale(0.83,1)" text-anchor="middle" font-size="62.4">50000</text>
<text transform="translate(709.2,1209) scale(0.83,1)" text-anchor="middle" font-size="62.4">100000</text>
<text transform="translate(909.65,1209) scale(0.83,1)" text-anchor="middle" font-size="62.4">150000</text>
<text transform="translate(1110.1,1209) scale(0.83,1)" text-anchor="middle" font-size="62.4">200000</text>
<text transform="translate(1310.55,1209) scale(0.83,1)" text-anchor="middle" font-size="62.4">250000</text>
<text transform="translate(1511,1209) scale(0.83,1)" text-anchor="middle" font-size="62.4">300000</text>
</g>
<rect x="377.81" y="99.6" width="20.37" height="25.2" fill="#000000"/>
<ellipse cx="388" cy="190.2" rx="11.34" ry="13.86" fill="#ff0000"/>
<polygon points="388,249.5 401.96,279.11 374.04,279.11" fill="#00ff00"/>
<polygon points="388,328.65 401.39,346.4 388,364.14 374.61,346.4" fill="#808000"/>
<polygon points="372.53,424.5 396.47,407.81 396.47,441.19" fill="#ff00ff"/>
<polygon points="374.35,492.3 401.65,492.3 388,521.7" fill="#0000ff"/>
<g font-family="Liberation Serif, 'Times New Roman', serif" fill="#000">
<text transform="translate(449.3,131.2) scale(0.82,1)" text-anchor="start" font-size="62.4">0.5h</text>
<text transform="translate(449.3,208.2) scale(0.82,1)" text-anchor="start" font-size="62.4">4 h</text>
<text transform="translate(449.3,286) scale(0.82,1)" text-anchor="start" font-size="62.4">12 h</text>
<text transform="translate(449.3,364.6) scale(0.82,1)" text-anchor="start" font-size="62.4">24 h</text>
<text transform="translate(449.3,442) scale(0.82,1)" text-anchor="start" font-size="62.4">36 h</text>
<text transform="translate(449.3,519.3) scale(0.82,1)" text-anchor="start" font-size="62.4">48 h</text>
</g>
<line x1="341" y1="579.5" x2="435.5" y2="579.5" stroke="#000" stroke-width="6.6" stroke-linecap="round"/>
<g font-family="Liberation Serif, 'Times New Roman', serif" fill="#000">
<text transform="translate(450.3,597.8) scale(0.82,1)" text-anchor="start" font-size="62.4">Fitted curve</text>
<text transform="scale(0.83,1)"><tspan x="1682.79" y="166.67" font-size="87.78" font-weight="normal">(</tspan><tspan x="1711.66" y="167.24" font-size="86.04" font-weight="bold">c</tspan><tspan x="1750.35" y="166.74" font-size="87.44" font-weight="normal">)</tspan></text>
<text transform="scale(0.82,1)"><tspan x="1036.55" y="1304.9" font-size="68" font-weight="bold">Z</tspan><tspan x="1075.51" y="1327.73" font-size="104.35" font-weight="bold">&#39;</tspan><tspan x="1099.88" y="1304.61" font-size="53.78" font-weight="normal">(</tspan><tspan x="1115.98" y="1304.32" font-size="68.33" font-weight="bold">Ω</tspan><tspan x="1172.34" y="1299.67" font-size="51.87" font-weight="bold">·</tspan><tspan x="1192.91" y="1305.25" font-size="64.58" font-weight="bold">c</tspan><tspan x="1223.03" y="1305" font-size="64.04" font-weight="bold">m</tspan><tspan x="1276.41" y="1275.27" font-size="52.88" font-weight="bold">2</tspan><tspan x="1302.74" y="1304.61" font-size="53.78" font-weight="normal">)</tspan></text>
<text transform="rotate(-90) scale(1.27,1)"><tspan x="-587.89" y="85.9" font-size="56.92" font-weight="bold">Z</tspan><tspan x="-553.76" y="97.66" font-size="76.09" font-weight="bold">&#39;</tspan><tspan x="-539.47" y="97.66" font-size="76.09" font-weight="bold">&#39;</tspan><tspan x="-521.06" y="85.87" font-size="44.89" font-weight="normal">(</tspan><tspan x="-507.23" y="85.34" font-size="56.06" font-weight="bold">Ω</tspan><tspan x="-461.88" y="81.96" font-size="46.25" font-weight="bold">·</tspan><tspan x="-444.51" y="85.48" font-size="52.08" font-weight="bold">c</tspan><tspan x="-420.59" y="85.9" font-size="52.98" font-weight="bold">m</tspan><tspan x="-376.37" y="61.85" font-size="44.85" font-weight="bold">2</tspan><tspan x="-354.75" y="86.41" font-size="45.67" font-weight="normal">)</tspan></text>
</g>
</svg></body></html>
